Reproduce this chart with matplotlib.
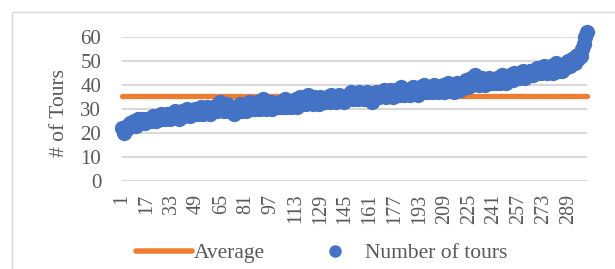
import matplotlib
matplotlib.use("Agg")
import matplotlib.pyplot as plt
from matplotlib.lines import Line2D
from matplotlib.patches import Rectangle

# ---- data ----
tours = [
    22, 20, 21, 23, 22, 24, 23,
    24, 25, 23, 26, 25, 24, 26, 25, 24, 26, 25, 26,
    25, 27, 26, 25, 27, 26, 28, 26, 27, 26, 28,
    27, 26, 28, 27, 29, 27, 28, 26, 28, 29, 27, 28, 30, 28, 27, 29, 28, 30, 29, 28,
    29, 31, 28, 30, 29, 31, 30, 28, 29, 31, 30, 29, 32, 33, 30,
    31, 29, 30, 32, 29, 31, 30, 28, 29, 31, 30, 32, 29, 30, 31,
    29, 31, 33, 30, 32, 31, 30, 33, 31, 30, 32, 34, 31, 30, 32, 31, 33, 30, 32, 31,
    32, 31, 33, 31, 32, 34, 31, 33, 32, 31, 33, 32, 34, 31, 33,
    35, 32, 34, 33, 32, 36, 33, 34, 32, 35, 33, 34, 32, 35, 33,
    34, 33, 35, 34, 33, 36, 34, 35, 33, 34, 36, 35, 34, 33, 35, 34, 36,
    35, 37, 34, 36, 35, 34, 37, 35, 36, 34, 35, 37, 36, 35, 33, 36, 35, 37,
    36, 35, 37, 36, 38, 35, 37, 36, 38, 37, 35, 36, 38, 37, 36, 39, 37, 36, 38, 37,
    38, 36, 37, 39, 38, 37, 36, 39, 38, 37, 40, 38, 37, 39, 38, 37, 40, 39, 38, 37,
    39, 38, 40, 37, 39, 41, 38, 40, 39, 37, 40, 41, 39, 38, 40,
    41, 40, 42, 39, 41, 43, 40, 42, 44, 41, 40, 42, 43, 41, 40, 42, 41, 43, 42, 41,
    42, 41, 43, 42, 41, 44, 42, 43, 41, 42, 44, 43, 42, 45, 43,
    44, 43, 45, 44, 46, 43, 45, 44, 46, 45, 44, 46, 45, 47, 46,
    45, 47, 48, 46, 45, 47, 46, 48, 45, 47, 49, 46, 48, 47, 46,
    48, 47, 49, 50, 48, 51, 50, 49, 52, 51,
    53, 52, 55, 57, 60, 62,
]
index = list(range(1, len(tours) + 1))
average = 35.6
xtick_labels = [str(v) for v in range(1, 290, 16)]
ytick_values = [0, 10, 20, 30, 40, 50, 60]
series_names = ["Average", "Number of tours"]

# ---- style ----
plt.rcParams["font.family"] = ["Liberation Serif", "DejaVu Serif"]
text_color = "#595959"
blue = "#4472C4"
orange = "#ED7D31"
grid_color = "#D9D9D9"

W, H = 615, 269
fig = plt.figure(figsize=(W / 100, H / 100), dpi=100)

# chart border
fig.add_artist(Rectangle((12 / W, -0.1), 1.2, (H - 12) / H + 0.1, transform=fig.transFigure,
                         fill=False, edgecolor="#D9D9D9", linewidth=1.0))

ax = fig.add_axes([122 / W, (H - 181) / H, (587 - 122) / W, (181 - 37) / H])
ax.set_xlim(1, len(tours))
ax.set_ylim(0, 60)

ax.plot(index, [average] * len(index), color=orange, linewidth=3.8,
        solid_capstyle="round", zorder=2, clip_on=False)
ax.plot(index, tours, linestyle="none", marker="o", markersize=11,
        color=blue, markeredgewidth=0, zorder=3, clip_on=False)

ax.set_yticks(ytick_values)
ax.yaxis.grid(True, color=grid_color, linewidth=1.5)
ax.set_axisbelow(True)
for s in ax.spines.values():
    s.set_visible(False)

ax.set_xticks([int(l) for l in xtick_labels])
ax.set_xticklabels(xtick_labels, rotation=90, fontsize=14.5, color=text_color)
ax.tick_params(axis="x", length=0, pad=9)
ax.tick_params(axis="y", length=0, pad=15, labelsize=15, labelcolor=text_color)

ax.set_ylabel("# of Tours", fontsize=15.5, color=text_color)
ax.yaxis.set_label_coords(-0.115, 0.47)

handles = [
    Line2D([], [], color=orange, linewidth=4, solid_capstyle="round"),
    Line2D([], [], color=blue, linestyle="none", marker="o", markersize=9, markeredgewidth=0),
]
fig.legend(handles, series_names, loc="center", bbox_to_anchor=(322 / W, (H - 253) / H),
           ncol=2, frameon=False, fontsize=15.5, handlelength=2.6, handletextpad=0.1,
           columnspacing=1.95, labelcolor=text_color)

fig.savefig("out.png", dpi=100)
